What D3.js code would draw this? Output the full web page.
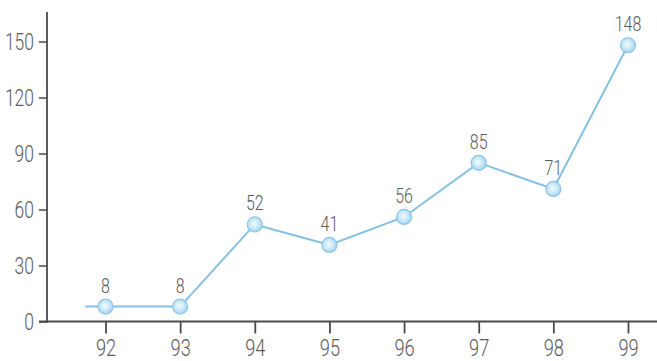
<!DOCTYPE html>
<html>
<head>
<meta charset="utf-8">
<script src="https://cdn.jsdelivr.net/npm/d3@7/dist/d3.min.js"></script>
<style>
  html, body { margin: 0; padding: 0; background: #fff; }
  svg { display: block; }
  text { font-family: Roboto, "Liberation Sans", sans-serif; font-weight: 300; fill: #5a5a5a; }
</style>
</head>
<body>
<svg id="chart" width="657" height="361"></svg>
<script>
// Yearly values, one per tick on the horizontal axis
const years = [92, 93, 94, 95, 96, 97, 98, 99];
const values = [8, 8, 52, 41, 56, 85, 71, 148];
const yTicks = [0, 30, 60, 90, 120, 150];
// the line runs in from the left edge of the first year
const leadInYear = 91.73;

const svg = d3.select("#chart");
const W = 657, H = 361;

const x = d3.scaleLinear().domain([92, 99]).range([105.5, 628]);
const y = d3.scaleLinear().domain([0, 150]).range([321.5, 41.5]);

const axisColor = "#4a4a4a";

// narrow the glyphs horizontally to get a condensed face
function condense(sel, k) {
  sel.each(function () {
    const w = this.getComputedTextLength();
    this.setAttribute("textLength", w * k);
    this.setAttribute("lengthAdjust", "spacingAndGlyphs");
  });
}

// gradient for the markers
const defs = svg.append("defs");
const grad = defs.append("radialGradient").attr("id", "dot")
  .attr("cx", "45%").attr("cy", "45%").attr("r", "60%");
grad.append("stop").attr("offset", "0%").attr("stop-color", "#f4fbff");
grad.append("stop").attr("offset", "55%").attr("stop-color", "#c7e6f7");
grad.append("stop").attr("offset", "100%").attr("stop-color", "#9fd0ee");

// Y axis
const yAxis = d3.axisLeft(y).tickValues(yTicks).tickSize(8).tickPadding(5);
const gy = svg.append("g").attr("transform", "translate(47,0)").call(yAxis);
gy.select(".domain").remove();
gy.selectAll(".tick line").attr("stroke", axisColor).attr("stroke-width", 1.5);
gy.selectAll(".tick text").attr("font-size", 23).attr("font-family", null)
  .attr("dy", "0.34em").style("fill", "#5a5a5a");
condense(gy.selectAll(".tick text"), 0.76);
svg.append("line")
  .attr("x1", 47).attr("x2", 47).attr("y1", 12).attr("y2", y(0) + 1)
  .attr("stroke", axisColor).attr("stroke-width", 1.8);

// X axis
const xAxis = d3.axisBottom(x).tickValues(years).tickSize(12).tickPadding(5)
  .tickFormat(d3.format("d"));
const gx = svg.append("g").attr("transform", `translate(0,${y(0)})`).call(xAxis);
gx.select(".domain").remove();
gx.selectAll(".tick line").attr("stroke", axisColor).attr("stroke-width", 1.8);
gx.selectAll(".tick text").attr("font-size", 24).attr("font-family", null)
  .style("fill", "#5a5a5a");
condense(gx.selectAll(".tick text"), 0.76);
svg.append("line")
  .attr("x1", 39).attr("x2", W).attr("y1", y(0)).attr("y2", y(0))
  .attr("stroke", axisColor).attr("stroke-width", 1.8);

// Data line
const pts = years.map((yr, i) => ({ yr, v: values[i] }));
const linePts = [{ yr: leadInYear, v: values[0] }].concat(pts);
const line = d3.line().x(d => x(d.yr)).y(d => y(d.v));
svg.append("path")
  .datum(linePts)
  .attr("d", line)
  .attr("fill", "none")
  .attr("stroke", "#86c0e3")
  .attr("stroke-width", 2);

// Markers
svg.selectAll("circle.pt").data(pts).enter().append("circle")
  .attr("class", "pt")
  .attr("cx", d => x(d.yr)).attr("cy", d => y(d.v)).attr("r", 7.5)
  .attr("fill", "url(#dot)")
  .attr("stroke", "#8cc6e8").attr("stroke-width", 1.2);

// Value labels
const vals = svg.selectAll("text.val").data(pts).enter().append("text")
  .attr("class", "val")
  .attr("x", d => x(d.yr)).attr("y", d => y(d.v) - 14)
  .attr("text-anchor", "middle")
  .attr("font-size", 21)
  .text(d => d.v);
condense(vals, 0.76);
</script>
</body>
</html>
